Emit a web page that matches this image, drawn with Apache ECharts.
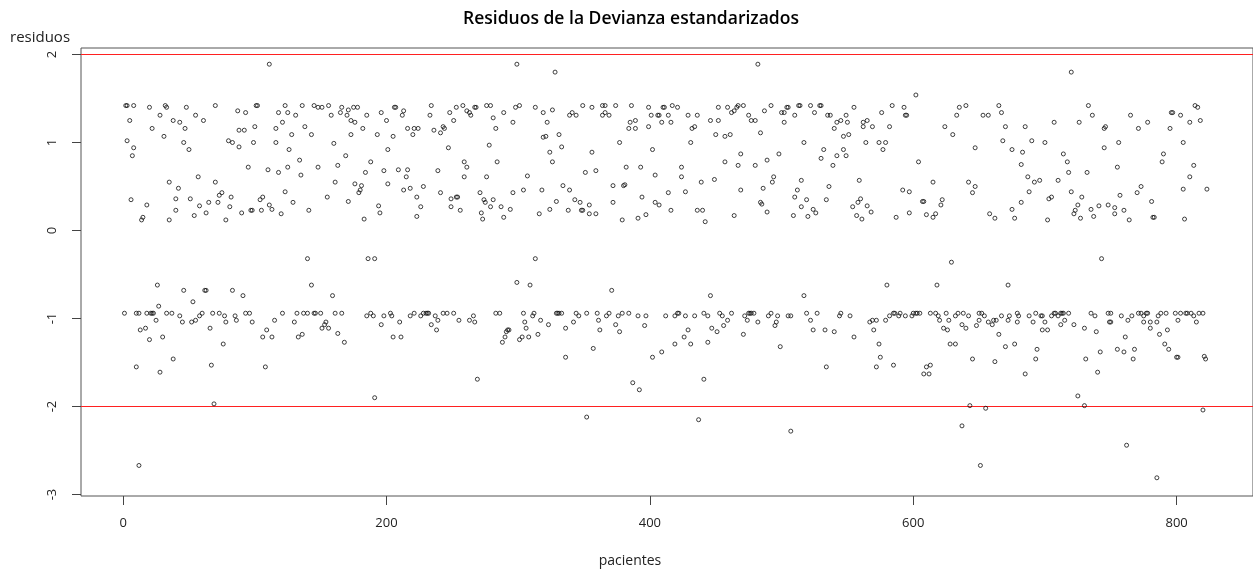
<!DOCTYPE html>
<html><head><meta charset="utf-8">
<script src="https://cdn.jsdelivr.net/npm/echarts@6/dist/echarts.min.js"></script>
<style>html,body{margin:0;padding:0;background:#fff}#c{width:1253px;height:570px}</style>
</head><body><div id="c"></div>
<script>
// [paciente, residuo]
const upper001 = [[111,1.89],[2,1.42],[3,1.42],[8,1.42],[20,1.40],[32,1.42],[33,1.40],[48,1.40],[70,1.42],[101,1.42],[102,1.42],[123,1.42],[87,1.36],[93,1.34],[118,1.34],[125,1.34],[28,1.31],[55,1.31],[5,1.25],[38,1.25],[43,1.23],[61,1.25],[121,1.23],[22,1.16],[47,1.16],[88,1.14],[92,1.14],[100,1.18],[116,1.16],[31,1.07],[3,1.02],[8,0.94],[7,0.85],[46,1.00],[50,0.92],[80,1.02],[83,1.00],[88,0.95],[99,1.00],[116,1.00],[126,0.92],[95,0.72],[110,0.69],[118,0.66],[125,0.72],[57,0.61],[35,0.55],[70,0.55],[42,0.48],[123,0.44],[75,0.43],[73,0.40],[82,0.38],[6,0.35],[40,0.36],[51,0.36],[104,0.35],[106,0.38],[18,0.29],[58,0.28],[65,0.32],[72,0.32],[81,0.27],[111,0.29],[113,0.24],[40,0.23],[63,0.20],[90,0.20],[97,0.23],[98,0.23],[105,0.23],[120,0.19],[54,0.17],[15,0.15],[14,0.12],[35,0.12],[78,0.12]];
const lower001 = [[26,-0.62],[46,-0.68],[62,-0.68],[63,-0.68],[83,-0.68],[91,-0.74],[53,-0.81],[27,-0.86],[1,-0.94],[10,-0.94],[12,-0.94],[18,-0.94],[21,-0.94],[22,-0.94],[23,-0.94],[33,-0.94],[37,-0.94],[43,-0.97],[60,-0.94],[68,-0.94],[73,-0.94],[77,-0.97],[85,-0.97],[93,-0.94],[96,-0.94],[121,-0.94],[58,-0.97],[25,-1.02],[45,-1.04],[52,-1.04],[55,-1.02],[78,-1.04],[86,-1.02],[98,-1.04],[115,-1.02],[13,-1.13],[17,-1.11],[66,-1.11],[109,-1.13],[20,-1.24],[30,-1.21],[106,-1.21],[113,-1.21],[76,-1.29],[38,-1.46],[10,-1.55],[67,-1.53],[108,-1.55],[28,-1.61],[69,-1.97],[12,-2.67]];
const upper126 = [[299,1.89],[136,1.42],[145,1.42],[148,1.40],[151,1.40],[156,1.42],[166,1.40],[175,1.40],[178,1.40],[206,1.40],[207,1.40],[234,1.42],[253,1.40],[258,1.42],[267,1.40],[268,1.40],[276,1.42],[279,1.42],[298,1.40],[301,1.42],[131,1.31],[158,1.31],[165,1.34],[170,1.31],[171,1.37],[185,1.31],[196,1.34],[212,1.31],[213,1.36],[233,1.31],[248,1.34],[261,1.36],[263,1.34],[264,1.31],[289,1.34],[173,1.25],[176,1.23],[200,1.25],[251,1.25],[281,1.28],[296,1.23],[138,1.18],[128,1.09],[143,1.09],[182,1.16],[193,1.09],[173,1.09],[205,1.07],[216,1.16],[221,1.16],[224,1.16],[220,1.09],[236,1.14],[241,1.11],[243,1.18],[244,1.16],[283,1.16],[160,0.99],[201,0.92],[247,0.94],[278,0.97],[134,0.80],[169,0.85],[188,0.78],[259,0.78],[284,0.78],[148,0.72],[163,0.74],[184,0.66],[198,0.68],[209,0.69],[216,0.69],[239,0.68],[261,0.72],[135,0.63],[215,0.61],[259,0.61],[276,0.61],[307,0.62],[161,0.55],[176,0.53],[181,0.51],[201,0.53],[228,0.50],[180,0.46],[179,0.43],[213,0.46],[218,0.48],[241,0.43],[271,0.43],[304,0.46],[155,0.38],[223,0.38],[253,0.38],[254,0.38],[249,0.36],[274,0.35],[281,0.35],[296,0.43],[129,0.32],[171,0.33],[275,0.32],[194,0.28],[226,0.27],[249,0.27],[279,0.27],[287,0.27],[294,0.24],[141,0.23],[195,0.20],[256,0.23],[272,0.20],[223,0.16],[289,0.15],[183,0.13],[273,0.13]];
const lower126 = [[140,-0.32],[186,-0.32],[191,-0.32],[143,-0.62],[159,-0.74],[299,-0.59],[132,-0.94],[137,-0.94],[140,-0.94],[145,-0.94],[146,-0.94],[150,-0.94],[161,-0.94],[166,-0.94],[185,-0.97],[188,-0.94],[190,-0.97],[198,-0.97],[203,-0.94],[204,-0.97],[218,-0.97],[221,-0.94],[226,-0.97],[228,-0.94],[230,-0.94],[231,-0.94],[232,-0.94],[237,-0.97],[243,-0.94],[246,-0.94],[251,-0.94],[266,-0.97],[283,-0.94],[286,-0.94],[304,-0.94],[130,-1.04],[154,-1.04],[153,-1.07],[151,-1.11],[156,-1.11],[210,-1.04],[196,-1.07],[234,-1.07],[239,-1.02],[238,-1.13],[255,-1.02],[263,-1.02],[267,-1.04],[305,-1.04],[306,-1.11],[133,-1.21],[136,-1.18],[163,-1.17],[168,-1.27],[205,-1.21],[211,-1.21],[291,-1.15],[292,-1.13],[293,-1.13],[290,-1.21],[288,-1.27],[301,-1.24],[303,-1.21],[269,-1.69],[191,-1.90]];
const upper308 = [[328,1.80],[482,1.89],[313,1.40],[349,1.42],[356,1.40],[364,1.42],[366,1.42],[374,1.42],[386,1.42],[399,1.40],[410,1.40],[411,1.40],[417,1.42],[421,1.40],[452,1.40],[459,1.40],[467,1.42],[466,1.40],[471,1.42],[487,1.36],[326,1.37],[319,1.34],[339,1.31],[341,1.34],[344,1.31],[364,1.31],[366,1.34],[369,1.31],[401,1.31],[406,1.31],[407,1.31],[414,1.31],[429,1.31],[436,1.31],[462,1.34],[464,1.36],[475,1.31],[322,1.23],[389,1.25],[385,1.23],[409,1.23],[416,1.23],[446,1.25],[452,1.25],[477,1.25],[480,1.25],[384,1.16],[389,1.16],[399,1.18],[432,1.16],[434,1.18],[319,1.06],[321,1.07],[331,1.09],[450,1.09],[457,1.07],[461,1.09],[484,1.11],[377,1.00],[431,1.00],[333,0.95],[402,0.92],[324,0.89],[356,0.89],[469,0.87],[326,0.78],[457,0.78],[489,0.80],[382,0.72],[393,0.72],[424,0.72],[467,0.74],[480,0.74],[351,0.66],[359,0.68],[404,0.63],[424,0.61],[439,0.55],[449,0.58],[334,0.51],[372,0.51],[380,0.51],[381,0.52],[318,0.46],[339,0.46],[486,0.48],[469,0.46],[414,0.43],[427,0.44],[394,0.38],[343,0.35],[347,0.32],[329,0.33],[372,0.32],[404,0.32],[407,0.29],[484,0.32],[485,0.30],[354,0.29],[324,0.24],[338,0.23],[348,0.23],[349,0.23],[416,0.23],[436,0.23],[440,0.23],[489,0.21],[316,0.19],[354,0.19],[359,0.19],[397,0.18],[464,0.17],[391,0.14],[379,0.12],[442,0.10]];
const lower308 = [[308,-1.21],[313,-0.32],[309,-0.62],[371,-0.68],[446,-0.74],[311,-0.97],[312,-0.94],[317,-1.02],[315,-1.18],[323,-1.07],[329,-0.94],[330,-0.94],[331,-0.94],[333,-0.94],[336,-1.11],[342,-1.04],[344,-0.94],[346,-0.97],[352,-0.94],[360,-0.94],[361,-1.02],[362,-1.13],[367,-0.97],[369,-0.94],[374,-1.07],[376,-0.97],[377,-1.15],[379,-0.94],[384,-0.94],[391,-0.97],[396,-1.08],[397,-0.97],[412,-0.97],[419,-0.97],[421,-0.94],[422,-0.94],[427,-0.97],[434,-0.97],[441,-0.94],[444,-0.97],[453,-0.94],[455,-0.97],[462,-0.94],[472,-0.97],[475,-0.94],[476,-0.94],[477,-0.94],[479,-0.94],[490,-0.97],[474,-1.02],[482,-1.04],[459,-1.02],[456,-1.08],[447,-1.11],[451,-1.15],[429,-1.13],[426,-1.21],[419,-1.29],[431,-1.29],[444,-1.27],[471,-1.18],[357,-1.34],[336,-1.44],[402,-1.44],[409,-1.38],[441,-1.69],[387,-1.73],[392,-1.81],[352,-2.12],[437,-2.15]];
const upper490 = [[602,1.54],[492,1.42],[504,1.40],[505,1.40],[513,1.42],[514,1.42],[522,1.42],[529,1.42],[530,1.42],[555,1.40],[584,1.42],[593,1.40],[635,1.40],[640,1.42],[665,1.42],[500,1.34],[502,1.34],[510,1.31],[525,1.34],[535,1.31],[537,1.31],[549,1.31],[576,1.34],[594,1.31],[595,1.31],[633,1.31],[653,1.31],[657,1.31],[667,1.34],[502,1.23],[542,1.23],[545,1.25],[550,1.23],[562,1.23],[565,1.25],[540,1.16],[562,1.18],[569,1.18],[582,1.18],[624,1.18],[670,1.18],[547,1.07],[551,1.09],[630,1.09],[517,1.00],[564,1.00],[574,1.00],[579,1.00],[668,1.02],[532,0.92],[547,0.92],[577,0.92],[647,0.94],[498,0.87],[530,0.82],[542,0.85],[549,0.85],[604,0.78],[539,0.74],[494,0.61],[493,0.55],[515,0.57],[536,0.50],[559,0.57],[615,0.55],[642,0.55],[647,0.50],[645,0.43],[512,0.46],[592,0.46],[597,0.44],[510,0.38],[519,0.35],[534,0.35],[560,0.36],[558,0.32],[607,0.33],[608,0.33],[622,0.35],[621,0.29],[515,0.27],[524,0.24],[526,0.20],[554,0.27],[565,0.28],[568,0.21],[597,0.20],[617,0.19],[610,0.18],[509,0.17],[520,0.16],[557,0.17],[561,0.13],[587,0.15],[615,0.15],[658,0.19],[662,0.14]];
const lower490 = [[629,-0.36],[580,-0.62],[618,-0.62],[517,-0.74],[492,-0.94],[497,-0.97],[505,-0.97],[507,-0.97],[519,-0.94],[527,-0.94],[544,-0.97],[545,-0.94],[552,-0.97],[579,-1.02],[582,-0.97],[585,-0.94],[586,-0.94],[589,-0.97],[590,-0.94],[594,-0.97],[599,-0.97],[600,-0.94],[602,-0.94],[603,-0.94],[605,-0.94],[613,-0.94],[617,-0.94],[619,-0.97],[625,-0.94],[632,-0.97],[634,-0.94],[638,-0.94],[642,-0.97],[650,-0.94],[652,-0.94],[654,-0.97],[667,-0.97],[496,-1.04],[495,-1.08],[522,-1.02],[567,-1.04],[569,-1.02],[572,-1.02],[570,-1.13],[524,-1.13],[533,-1.13],[540,-1.15],[555,-1.21],[620,-1.02],[627,-1.02],[623,-1.11],[626,-1.13],[637,-1.07],[640,-1.11],[648,-1.08],[650,-1.02],[657,-1.04],[660,-1.07],[661,-1.02],[663,-1.02],[665,-1.18],[670,-1.32],[499,-1.32],[574,-1.29],[575,-1.44],[572,-1.55],[628,-1.29],[632,-1.29],[585,-1.53],[534,-1.55],[608,-1.63],[612,-1.63],[610,-1.55],[613,-1.53],[645,-1.46],[662,-1.49],[643,-1.99],[655,-2.02],[637,-2.22],[507,-2.28],[651,-2.67]];
const upper671 = [[720,1.80],[733,1.42],[814,1.42],[816,1.40],[796,1.34],[797,1.34],[736,1.31],[765,1.31],[803,1.31],[707,1.23],[726,1.23],[778,1.23],[810,1.23],[818,1.25],[685,1.18],[745,1.16],[746,1.18],[771,1.16],[795,1.16],[690,1.02],[700,1.00],[756,1.00],[805,1.00],[675,0.92],[683,0.89],[745,0.94],[714,0.87],[717,0.78],[790,0.87],[789,0.78],[682,0.75],[755,0.72],[813,0.74],[718,0.66],[732,0.66],[687,0.61],[810,0.61],[692,0.55],[696,0.57],[710,0.57],[773,0.50],[805,0.47],[823,0.47],[688,0.44],[720,0.44],[770,0.43],[728,0.38],[757,0.40],[703,0.36],[705,0.38],[682,0.32],[781,0.33],[725,0.29],[741,0.28],[748,0.29],[753,0.26],[735,0.24],[675,0.24],[723,0.23],[722,0.19],[760,0.23],[753,0.19],[677,0.14],[702,0.12],[727,0.14],[737,0.16],[764,0.12],[782,0.15],[783,0.15],[806,0.13]];
const lower671 = [[743,-0.32],[672,-0.62],[673,-0.97],[672,-1.02],[679,-0.94],[680,-0.97],[679,-1.04],[677,-1.29],[688,-0.97],[691,-1.04],[693,-0.94],[697,-0.97],[698,-0.97],[700,-1.04],[698,-1.13],[702,-1.13],[694,-1.35],[693,-1.46],[685,-1.63],[705,-0.97],[707,-0.94],[708,-0.94],[710,-0.97],[712,-0.94],[713,-0.94],[714,-0.94],[712,-1.07],[715,-1.02],[718,-0.94],[722,-1.07],[730,-1.11],[735,-0.94],[738,-0.97],[739,-1.15],[731,-1.46],[742,-1.38],[740,-1.61],[725,-1.88],[730,-1.99],[748,-0.94],[750,-0.94],[749,-1.04],[750,-1.04],[758,-0.97],[761,-1.21],[763,-1.02],[766,-0.97],[755,-1.35],[760,-1.38],[768,-1.35],[767,-1.46],[762,-2.44],[771,-0.94],[773,-0.94],[775,-0.97],[777,-0.94],[778,-0.94],[775,-1.04],[780,-1.04],[780,-1.11],[785,-1.04],[786,-0.97],[788,-0.94],[792,-0.94],[787,-1.18],[793,-1.13],[791,-1.29],[794,-1.35],[800,-1.44],[801,-1.44],[785,-2.81],[799,-0.94],[801,-1.02],[803,-0.94],[807,-0.94],[808,-0.94],[811,-0.94],[813,-0.97],[815,-1.04],[817,-0.94],[820,-0.94],[821,-1.43],[822,-1.46],[820,-2.04]];

const xTicks = [0, 200, 400, 600, 800];
const yTicks = [-3, -2, -1, 0, 1, 2];
const refLines = [2, -2];
const titleText = 'Residuos de la Devianza estandarizados';
const xName = 'pacientes';
const yName = 'residuos';

const X_MIN = -32, X_MAX = 858, Y_MIN = -3.017, Y_MAX = 2.074;
const allPoints = [].concat(upper001, lower001, upper126, lower126, upper308, lower308, upper490, lower490, upper671, lower671);

const FONT = '"Open Sans", "DejaVu Sans", sans-serif';
const RED = '#ff2020';
const refSeries = refLines.map(v => ({
  type: 'line', data: [[X_MIN, v], [X_MAX, v]], symbol: 'none', silent: true, z: 1,
  lineStyle: {color: RED, width: 1, type: 'solid'}, itemStyle: {color: RED}
}));

const chart = echarts.init(document.getElementById('c'), null, {renderer: 'canvas'});
chart.setOption({
  animation: false,
  backgroundColor: '#ffffff',
  grid: {left: 81, top: 48, right: -4, bottom: 74, show: true, borderColor: '#555', borderWidth: 1, backgroundColor: 'transparent'},
  xAxis: {
    type: 'value', min: X_MIN, max: X_MAX,
    axisLine: {show: false, onZero: false},
    splitLine: {show: false},
    axisTick: {show: true, inside: false, length: 9, customValues: xTicks, lineStyle: {color: '#444', width: 1}},
    axisLabel: {customValues: xTicks, margin: 21, fontFamily: FONT, fontSize: 13, color: '#222'}
  },
  yAxis: {
    type: 'value', min: Y_MIN, max: Y_MAX,
    axisLine: {show: false, onZero: false},
    splitLine: {show: false},
    axisTick: {show: true, inside: false, length: 9, customValues: yTicks, lineStyle: {color: '#444', width: 1}},
    axisLabel: {customValues: yTicks, rotate: 90, margin: 22, fontFamily: FONT, fontSize: 13, color: '#222'}
  },
  graphic: [
    {type: 'text', x: 631, y: 19, style: {text: titleText, font: '600 17.5px "Open Sans", sans-serif', fill: '#000', textAlign: 'center', textVerticalAlign: 'middle'}},
    {type: 'text', x: 10, y: 38, style: {text: yName, font: '15px ' + FONT, fill: '#222', textAlign: 'left', textVerticalAlign: 'middle'}},
    {type: 'text', x: 630, y: 561, style: {text: xName, font: '14px ' + FONT, fill: '#222', textAlign: 'center', textVerticalAlign: 'middle'}}
  ],
  series: refSeries.concat([{
    type: 'scatter',
    data: allPoints,
    symbol: 'circle',
    symbolSize: 4,
    z: 3,
    itemStyle: {color: 'rgba(0,0,0,0)', borderColor: '#111', borderWidth: 1},
    silent: true
  }])
});
</script></body></html>
